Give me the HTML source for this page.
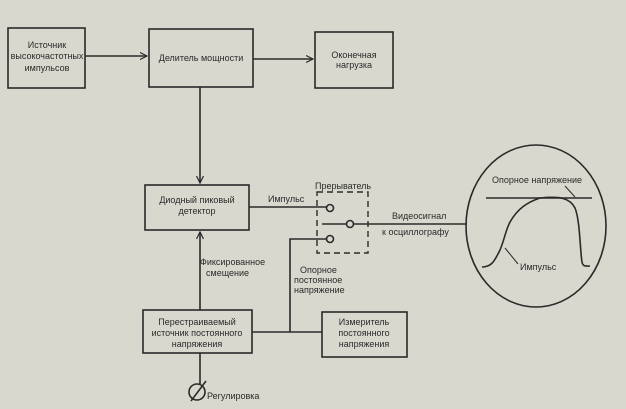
<!DOCTYPE html>
<html><head><meta charset="utf-8"><style>
html,body{margin:0;padding:0;background:#d9d8cf;}
svg{display:block;font-family:"Liberation Sans","DejaVu Sans",sans-serif;}
text{fill:#2a2a2a;font-size:9px;}
</style></head><body>
<svg width="626" height="409" viewBox="0 0 626 409" xmlns="http://www.w3.org/2000/svg">
<defs><marker id="a" markerWidth="8" markerHeight="8" refX="7" refY="4" orient="auto" markerUnits="userSpaceOnUse"><path d="M0,0.5 L7,4 L0,7.5" fill="none" stroke="#2a2a2a" stroke-width="1.2"/></marker></defs>
<rect width="626" height="409" fill="#d9d8cf"/>
<g stroke="#2a2a2a" stroke-width="1.6" fill="none">
<rect x="8" y="28" width="77" height="60"/>
<rect x="149" y="29" width="104" height="58"/>
<rect x="315" y="32" width="78" height="56"/>
<rect x="145" y="185" width="104" height="45"/>
<rect x="143" y="310" width="109" height="43"/>
<rect x="322" y="312" width="85" height="45"/>
<line x1="85" y1="56" x2="147" y2="56" marker-end="url(#a)"/>
<line x1="253" y1="59" x2="313" y2="59" marker-end="url(#a)"/>
<line x1="200" y1="87" x2="200" y2="183" marker-end="url(#a)"/>
<line x1="200" y1="310" x2="200" y2="232" marker-end="url(#a)"/>
<line x1="249" y1="207" x2="327" y2="207"/>
<circle cx="330" cy="208" r="3.5" fill="#d9d8cf"/>
<line x1="322" y1="224" x2="347" y2="224"/>
<circle cx="350" cy="224" r="3.5" fill="#d9d8cf"/>
<line x1="353" y1="224" x2="467" y2="224"/>
<circle cx="330" cy="239" r="3.5" fill="#d9d8cf"/>
<polyline points="327,239 290,239 290,332"/>
<line x1="252" y1="332" x2="322" y2="332"/>
<line x1="200" y1="353" x2="200" y2="384"/>
<circle cx="197" cy="392" r="8"/>
<line x1="191" y1="401" x2="206" y2="381"/>
<rect x="317" y="192" width="51" height="61" stroke-dasharray="6,4" stroke-width="1.4"/>
<ellipse cx="536" cy="226" rx="70" ry="81"/>
<line x1="486" y1="198" x2="592" y2="198"/>
<line x1="565" y1="186" x2="575" y2="197" stroke-width="1"/>
<path d="M482,267 C492,267 495,260 500,250 C505,238 505,232 510,222 C518,208 528,202 540,198 C560,196 570,198 575,208 C580,220 580,250 582,262 C583,267 586,266 590,266"/>
<line x1="505" y1="248" x2="518" y2="264" stroke-width="1"/>
</g>
<g text-anchor="middle">
<text x="47" y="48">Источник</text>
<text x="47" y="59">высокочастотных</text>
<text x="47" y="71">импульсов</text>
<text x="201" y="61">Делитель мощности</text>
<text x="354" y="58">Оконечная</text>
<text x="354" y="68">нагрузка</text>
<text x="197" y="203">Диодный пиковый</text>
<text x="197" y="214">детектор</text>
<text x="197" y="325">Перестраиваемый</text>
<text x="197" y="336">источник постоянного</text>
<text x="197" y="347">напряжения</text>
<text x="364" y="325">Измеритель</text>
<text x="364" y="336">постоянного</text>
<text x="364" y="347">напряжения</text>
</g>
<text x="268" y="202">Импульс</text>
<text x="315" y="189">Прерыватель</text>
<text x="392" y="219">Видеосигнал</text>
<text x="382" y="235">к осциллографу</text>
<text x="200" y="265">Фиксированное</text>
<text x="206" y="276">смещение</text>
<text x="300" y="273">Опорное</text>
<text x="294" y="283">постоянное</text>
<text x="294" y="293">напряжение</text>
<text x="207" y="399">Регулировка</text>
<text x="492" y="183">Опорное напряжение</text>
<text x="520" y="270">Импульс</text>
</svg>
</body></html>
